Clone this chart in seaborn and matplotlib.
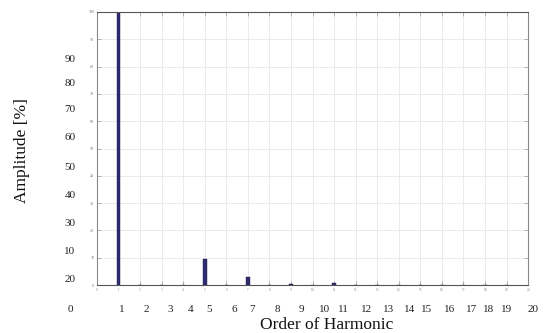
import matplotlib
matplotlib.use("Agg")
import matplotlib.pyplot as plt
import pandas as pd
import seaborn as sns

# harmonic spectrum
harmonics = list(range(1, 20))
amplitudes = [100, 0, 0, 0, 9.5, 0, 3.0, 0, 0.3, 0, 0.8, 0, 0, 0, 0, 0, 0, 0, 0]

x_ticks = list(range(0, 21))
y_ticks = list(range(0, 101, 10))

# the big (misplaced) labels laid over the figure, as in the source image
left_labels = ["90", "80", "70", "60", "50", "40", "30", "10", "20"]
bottom_labels = [str(i) for i in range(1, 21)]

sns.set_theme(style="whitegrid")
plt.rcParams["font.family"] = ["Liberation Serif", "DejaVu Serif"]

df = pd.DataFrame({"harmonic": harmonics, "amplitude": amplitudes})

fig = plt.figure(figsize=(5.45, 3.33), dpi=100)
ax = fig.add_axes([0.178, 0.144, 0.791, 0.820])

sns.barplot(
    data=df, x="harmonic", y="amplitude",
    native_scale=True, width=0.16,
    color="#2E2B70", saturation=1, ax=ax,
    edgecolor="#1f1d55", linewidth=0.3,
)

ax.set_xlim(0, 20)
ax.set_ylim(0, 100)
ax.set_xticks(x_ticks)
ax.set_xticklabels([str(t) for t in x_ticks], fontsize=2.5, color="#888888")
ax.set_yticks(y_ticks)
ax.set_yticklabels([str(t) for t in y_ticks], fontsize=3, color="#777777")
ax.set_xlabel("")
ax.set_ylabel("")
ax.grid(True, color="#e8e8e8", linewidth=0.6)
ax.tick_params(direction="in", length=3, width=0.5, color="#999999",
               top=True, right=True, bottom=True, left=True, pad=2)
for side, sp in ax.spines.items():
    sp.set_visible(True)
    sp.set_linewidth(0.8)
    sp.set_color("#555555" if side in ("top", "bottom") else "#888888")

W, H = 545.0, 333.0
left_y = [60, 84, 110, 138, 167, 195, 223, 252, 280]
for lab, py in zip(left_labels, left_y):
    fig.text(70 / W, 1 - py / H, lab, fontsize=8, ha="center", va="center",
             color="#222222")
fig.text(70 / W, 1 - 310 / H, "0", fontsize=8, ha="center", va="center",
         color="#222222")

bottom_x = [122, 146, 170, 191, 209, 234, 252, 277, 301, 325,
            343, 367, 389, 410, 427, 450, 472, 489, 507, 533]
for lab, px in zip(bottom_labels, bottom_x):
    fig.text(px / W, 1 - 310 / H, lab, fontsize=8, ha="center", va="center",
             color="#222222")

fig.text(327 / W, 1 - 325 / H, "Order of Harmonic", fontsize=12.5,
         ha="center", va="center", color="#111111")
fig.text(22 / W, 1 - 151 / H, "Amplitude [%]", fontsize=12.5, rotation=90,
         ha="center", va="center", color="#111111")

fig.savefig("out.png", dpi=100)
